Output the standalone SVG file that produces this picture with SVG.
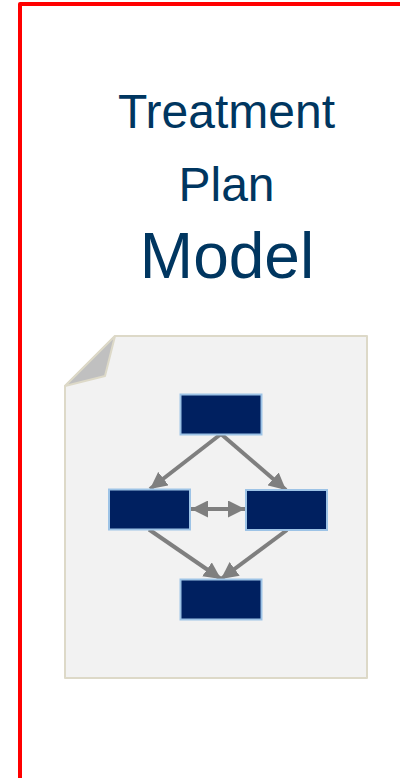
<svg xmlns="http://www.w3.org/2000/svg" width="400" height="778" viewBox="0 0 400 778">
<style>
.t{font-family:"Liberation Sans",Arial,sans-serif;fill:#003660;text-anchor:middle}
.b{fill:#002060;stroke:#9dc3e6;stroke-width:2}
.c{stroke:#7f7f7f;stroke-width:4;fill:none}
.p{stroke:#ddd9c8;stroke-width:2;stroke-linejoin:round}
</style>
<defs>
<marker id="a" viewBox="0 0 17 17" refX="17" refY="8.500" markerWidth="17" markerHeight="17" markerUnits="userSpaceOnUse" orient="auto-start-reverse"><path d="M0 0L17 8.500L0 17Z" fill="#7f7f7f"/></marker>
</defs>
<rect width="400" height="778" fill="#fff"/>
<path id="frame" d="M20 778V4H400" fill="none" stroke="#ff0000" stroke-width="4" stroke-linejoin="round"/>
<g id="title">
<text class="t" x="226.500" y="128" font-size="48">Treatment</text>
<text class="t" x="226.500" y="200.500" font-size="48">Plan</text>
<text class="t" x="227" y="278" font-size="64">Model</text>
</g>
<g id="page">
<path class="p" fill="#f2f2f2" d="M115 336H367V678H65V386Z"/>
<path class="p" fill="#c0c0c0" d="M115 336L105 376L65 386Z"/>
</g>
<g id="connectors">
<path class="c" marker-end="url(#a)" d="M221 434L150 489"/>
<path class="c" marker-end="url(#a)" d="M221 434L286 490"/>
<path class="c" marker-end="url(#a)" d="M149 529.500L221 579"/>
<path class="c" marker-end="url(#a)" d="M287 530L221 579"/>
<path class="c" marker-start="url(#a)" marker-end="url(#a)" d="M191 509H245"/>
</g>
<g id="node-top"><rect class="b" x="180.500" y="394.500" width="81" height="40"/></g>
<g id="node-left"><rect class="b" x="109" y="489.500" width="81" height="40"/></g>
<g id="node-right"><rect class="b" x="246" y="490" width="81" height="40"/></g>
<g id="node-bottom"><rect class="b" x="180.500" y="579.500" width="81" height="40"/></g>
</svg>
